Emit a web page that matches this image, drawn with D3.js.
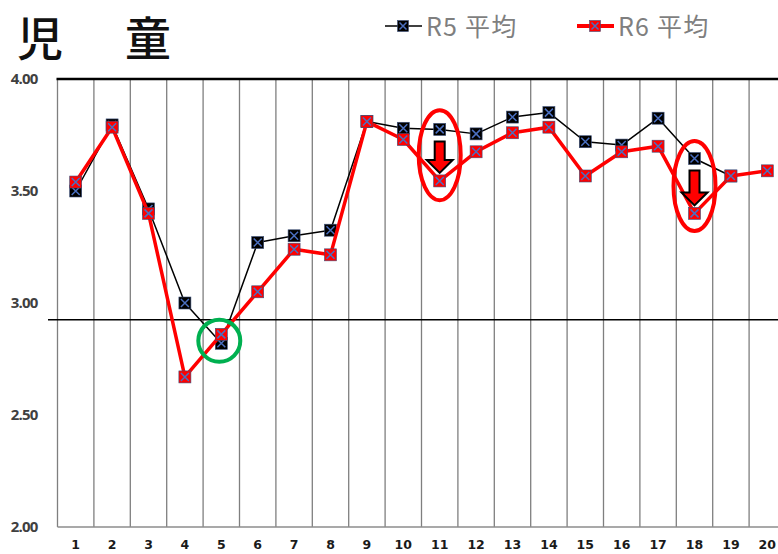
<!DOCTYPE html>
<html>
<head>
<meta charset="utf-8">
<script src="https://cdn.jsdelivr.net/npm/d3@7"></script>
<style>
  html, body { margin: 0; padding: 0; background: #fff; }
  svg { display: block; }
</style>
</head>
<body>
<div id="chart"></div>
<script>
(function(){
    const categories = ['1','2','3','4','5','6','7','8','9','10','11','12','13','14','15','16','17','18','19','20'];
    const r5 = [3.50,3.795,3.42,3.00,2.82,3.27,3.30,3.325,3.81,3.78,3.775,3.755,3.83,3.85,3.72,3.705,3.825,3.645,3.567,null];
    const r6 = [3.54,3.785,3.40,2.67,2.86,3.05,3.24,3.215,3.81,3.73,3.545,3.675,3.76,3.785,3.567,3.675,3.70,3.40,3.567,3.59];
    const yTicks = [2.00, 2.50, 3.00, 3.50, 4.00];
    const refValue = 2.925;
    const dropMarks = ['11', '18'];   // red ellipse + arrow
    const goodMarks = ['5'];          // green circle

    const W = 778, H = 554;
    const left = 57.5, band = 36.4, top = 79, bottom = 527;

    const svg = d3.select('#chart').append('svg')
        .attr('width', W).attr('height', H)
        .attr('viewBox', `0 0 ${W} ${H}`);

    const x = d3.scaleBand().domain(categories).range([left, left + band * categories.length]);
    const y = d3.scaleLinear().domain([2, 4]).range([bottom, top]);
    const cx = c => x(c) + x.bandwidth() / 2;

    // vertical grid lines
    const bounds = categories.map(c => x(c));
    svg.append('g').selectAll('line')
        .data(bounds)
        .enter().append('line')
        .attr('x1', d => d).attr('x2', d => d)
        .attr('y1', top).attr('y2', bottom)
        .attr('stroke', '#7f7f7f').attr('stroke-width', 1.3);

    // bottom and top border
    svg.append('line').attr('x1', left).attr('x2', W).attr('y1', bottom).attr('y2', bottom)
        .attr('stroke', '#8c8c8c').attr('stroke-width', 1.3);
    svg.append('line').attr('x1', left - 1).attr('x2', W).attr('y1', top).attr('y2', top)
        .attr('stroke', '#000').attr('stroke-width', 2.5);

    // reference line
    svg.append('line').attr('x1', 48).attr('x2', W).attr('y1', y(refValue)).attr('y2', y(refValue))
        .attr('stroke', '#000').attr('stroke-width', 1.4);

    // y axis labels
    const yAxis = svg.append('g').attr('transform', `translate(${left - 17},0)`)
        .call(d3.axisLeft(y).tickValues(yTicks).tickFormat(d3.format('.2f')).tickSize(0));
    yAxis.select('.domain').remove();
    yAxis.selectAll('text')
        .attr('font-family', '"Open Sans", sans-serif')
        .attr('font-weight', 700).attr('font-size', 15)
        .attr('letter-spacing', -0.8)
        .attr('fill', '#404040');

    // x axis labels
    const xAxis = svg.append('g').attr('transform', `translate(0,${bottom + 10})`)
        .call(d3.axisBottom(x).tickSize(0));
    xAxis.select('.domain').remove();
    xAxis.selectAll('text')
        .attr('font-family', '"DejaVu Sans", sans-serif')
        .attr('font-weight', 700).attr('font-size', 12.5)
        .attr('fill', '#1a1a1a');

    function marker(g, px, py, fill, s) {
        s = s || 6;
        g.append('rect').attr('x', px - s).attr('y', py - s).attr('width', 2 * s).attr('height', 2 * s)
            .attr('fill', fill).attr('stroke', '#3b4f7a').attr('stroke-width', 0.6);
        g.append('path')
            .attr('d', `M${px - s + 2},${py - s + 2}L${px + s - 2},${py + s - 2}M${px + s - 2},${py - s + 2}L${px - s + 2},${py + s - 2}`)
            .attr('stroke', '#4a6fc0').attr('stroke-width', 1.5).attr('fill', 'none');
    }

    function series(vals, color, width) {
        const pts = categories.map((c, i) => ({c, v: vals[i]})).filter(d => d.v != null);
        svg.append('path').datum(pts)
            .attr('fill', 'none').attr('stroke', color).attr('stroke-width', width)
            .attr('stroke-linejoin', 'round')
            .attr('d', d3.line().x(d => cx(d.c)).y(d => y(d.v)));
        const g = svg.append('g');
        pts.forEach(d => marker(g, cx(d.c), y(d.v), color === '#000' ? '#000' : '#ff0000'));
    }

    series(r5, '#000', 1.5);
    series(r6, '#ff0000', 3.5);

    // annotations: ellipse + down arrow
    dropMarks.forEach(c => {
        const i = categories.indexOf(c);
        const a = y(r5[i]), b = y(r6[i]);
        svg.append('ellipse')
            .attr('cx', cx(c)).attr('cy', (a + b) / 2)
            .attr('rx', 21).attr('ry', 45)
            .attr('fill', 'none').attr('stroke', '#ff0000').attr('stroke-width', 4);
        const t = a + 12, e = b - 8, px = cx(c), hw = 13, sw = 5, hh = 13;
        svg.append('path')
            .attr('d', `M${px - sw},${t}L${px + sw},${t}L${px + sw},${e - hh}L${px + hw},${e - hh}L${px},${e}L${px - hw},${e - hh}L${px - sw},${e - hh}Z`)
            .attr('fill', '#ff0000').attr('stroke', '#000').attr('stroke-width', 2)
            .attr('stroke-linejoin', 'miter');
    });

    goodMarks.forEach(c => {
        const i = categories.indexOf(c);
        svg.append('circle')
            .attr('cx', cx(c) - 2).attr('cy', (y(r5[i]) + y(r6[i])) / 2 + 2)
            .attr('r', 21)
            .attr('fill', 'none').attr('stroke', '#00b050').attr('stroke-width', 4);
    });

    // title
    [{t: '児', x: 17}, {t: '童', x: 125}].forEach(d => {
        svg.append('text').attr('x', d.x).attr('y', 55)
            .attr('font-family', '"Noto Sans CJK JP", sans-serif')
            .attr('font-weight', 500).attr('font-size', 46)
            .attr('fill', '#111').text(d.t);
    });

    // legend
    const legend = [
        {label: 'R5 平均', color: '#000', width: 1.5, fill: '#000', x: 385},
        {label: 'R6 平均', color: '#ff0000', width: 4, fill: '#ff0000', x: 577}
    ];
    legend.forEach(l => {
        const g = svg.append('g');
        g.append('line').attr('x1', l.x).attr('x2', l.x + 37).attr('y1', 26).attr('y2', 26)
            .attr('stroke', l.color).attr('stroke-width', l.width);
        marker(g, l.x + 18, 26, l.fill, 5.5);
        g.append('text').attr('x', l.x + 41).attr('y', 36)
            .attr('font-family', '"Noto Sans CJK JP", sans-serif')
            .attr('font-size', 25).attr('letter-spacing', 1.2).attr('fill', '#7f7f7f')
            .text(l.label);
    });
})();
</script>
</body>
</html>
